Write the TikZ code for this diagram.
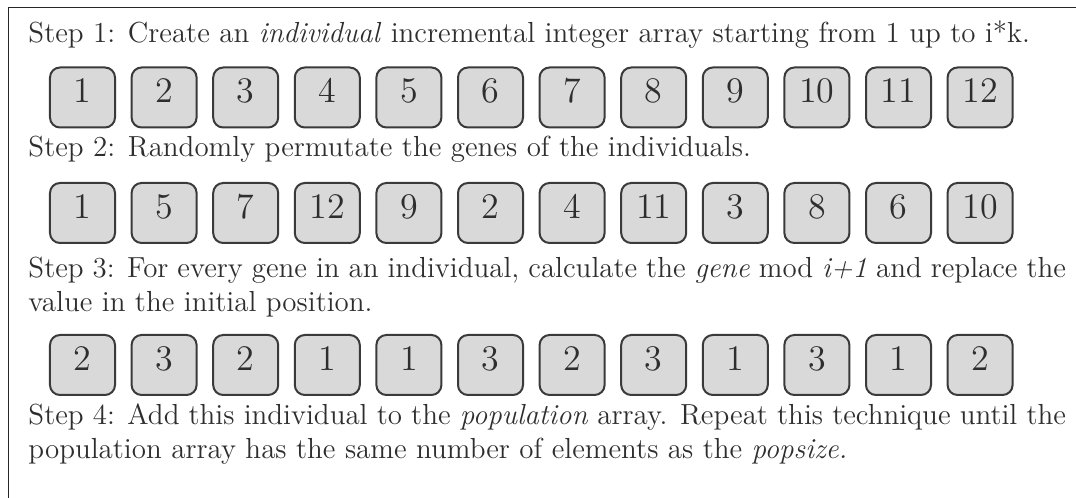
\documentclass[tikz,border=0pt]{standalone}
\usepackage{tikz}
\usetikzlibrary{positioning}
\definecolor{inkgray}{HTML}{2E2E2E}
\definecolor{edgegray}{HTML}{3A3A3A}
\definecolor{cellfill}{HTML}{D9D9DA}
\newcommand{\notefont}{\fontsize{11.6}{13.6}\selectfont\hyphenpenalty=10000}
\tikzset{
  cellbox/.style={
    rounded corners=4pt,
    draw=edgegray,
    fill=cellfill,
    line width=0.8pt,
    minimum width=26pt,
    minimum height=24pt,
    inner sep=0pt,
    text height=1.5ex,
    text depth=.5ex,
    text=inkgray,
    font=\Large
  },
  stepnote/.style={
    anchor=north west,
    inner sep=0pt,
    text width=415pt,
    align=justify,
    text=inkgray,
    font=\notefont
  },
  framerule/.style={line width=0.6pt,draw=black!85}
}

\begin{document}
\begin{tikzpicture}[x=0.4pt,y=-0.4pt]
  \useasboundingbox (0,0) rectangle (1076,498);
  \coordinate (frameBL) at (8.5,520);
  \coordinate (frameTL) at (8.5,7.5);
  \coordinate (frameTR) at (1100,7.5);
  \draw[framerule] (frameBL) -- (frameTL) -- (frameTR);

  \node[stepnote] (stepA) at (28,19.9) {Step 1: Create an \emph{individual} incremental integer array starting from 1 up to i*k.};
  \foreach \v [count=\i] in {1,2,3,4,5,6,7,8,9,10,11,12}
    \node[cellbox] (a\i) at ({82.5+81.6*(\i-1)},97.5) {\v};

  \node[stepnote] (stepB) at (28,135.9) {Step 2: Randomly permutate the genes of the individuals.};
  \foreach \v [count=\i] in {1,5,7,12,9,2,4,11,3,8,6,10}
    \node[cellbox] (b\i) at ({82.5+81.6*(\i-1)},213) {\v};

  \node[stepnote] (stepC) at (28,256.9) {Step 3: For every gene in an individual, calculate the \emph{gene} mod \emph{i+1} and replace the\linebreak value in the initial position.};
  \foreach \v [count=\i] in {2,3,2,1,1,3,2,3,1,3,1,2}
    \node[cellbox] (c\i) at ({82.5+81.6*(\i-1)},365) {\v};

  \node[stepnote] (stepD) at (28,402.9) {Step 4: Add this individual to the \emph{population} array. Repeat this technique until the population array has the same number of elements as the \emph{popsize.}};
\end{tikzpicture}
\end{document}
